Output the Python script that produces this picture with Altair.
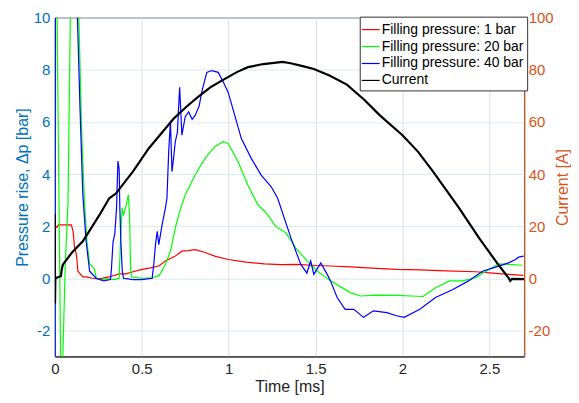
import altair as alt
import pandas as pd

FONT = "Liberation Sans"
BLUE_AX = "#0072BD"
ORANGE_AX = "#D95319"
DARK = "#262626"

# ---- data ----
t_red = [0.005, 0.012, 0.02, 0.06, 0.095, 0.105, 0.114, 0.124, 0.133, 0.142, 0.161, 0.18, 0.217, 0.256, 0.313,
         0.37, 0.409, 0.45, 0.503, 0.55, 0.598, 0.636, 0.693, 0.73, 0.77, 0.807, 0.86, 0.92, 0.997, 1.1, 1.206,
         1.3, 1.396, 1.5, 1.586, 1.7, 1.8, 1.966, 2.1, 2.25, 2.42, 2.52, 2.61, 2.695]
p_red = [2.0, 1.95, 2.05, 2.05, 2.05, 1.8, 1.16, 0.91, 0.27, 0.2, 0.05, 0.05, 0.0, -0.02, 0.05,
         0.17, 0.17, 0.25, 0.34, 0.4, 0.47, 0.66, 0.85, 1.04, 1.06, 1.1, 1.0, 0.85, 0.72, 0.62, 0.55,
         0.52, 0.53, 0.49, 0.47, 0.44, 0.4, 0.34, 0.32, 0.28, 0.25, 0.2, 0.15, 0.11]

t_green = [0.006, 0.013, 0.034, 0.044, 0.06, 0.076, 0.089, 0.1, 0.13, 0.138, 0.155, 0.17, 0.185, 0.2, 0.215,
           0.228, 0.238, 0.26, 0.3, 0.34, 0.37, 0.378, 0.387, 0.395, 0.41, 0.423, 0.43, 0.436, 0.443, 0.5,
           0.56, 0.6, 0.636, 0.665, 0.693, 0.72, 0.75, 0.78, 0.807, 0.864, 0.92, 0.969, 0.997, 1.054, 1.11,
           1.168, 1.225, 1.27, 1.33, 1.386, 1.453, 1.51, 1.586, 1.65, 1.7, 1.757, 1.85, 1.966, 2.05, 2.118,
           2.19, 2.27, 2.346, 2.42, 2.497, 2.555, 2.61, 2.69]
p_green = [12.0, 10.0, -3.5, -3.5, 0.5, 2.95, 10.0, 14.0, 14.0, 10.0, 5.5, 3.0, 1.4, 0.55, 0.45,
           0.34, 0.02, -0.05, -0.02, -0.05, 0.0, 1.5, 2.7, 2.4, 2.8, 3.2, 2.4, 0.4, 0.05, 0.0,
           0.02, 0.1, 0.53, 1.04, 1.93, 2.6, 3.2, 3.6, 3.96, 4.6, 5.05, 5.24, 5.17, 4.47, 3.58,
           2.82, 2.44, 1.99, 1.74, 1.16, 0.66, 0.27, -0.1, -0.35, -0.55, -0.68, -0.65, -0.66, -0.68, -0.7,
           -0.36, -0.1, -0.1, 0.02, 0.34, 0.55, 0.53, 0.5]

t_blue = [0.0, 0.004, 0.12, 0.13, 0.145, 0.161, 0.18, 0.2, 0.237, 0.28, 0.32, 0.325, 0.335, 0.345, 0.355,
          0.363, 0.37, 0.374, 0.38, 0.388, 0.395, 0.45, 0.5, 0.56, 0.57, 0.579, 0.589, 0.598, 0.617, 0.636,
          0.645, 0.655, 0.665, 0.674, 0.683, 0.693, 0.705, 0.718, 0.731, 0.75, 0.77, 0.79, 0.807, 0.83, 0.845,
          0.874, 0.902, 0.94, 0.969, 0.997, 1.035, 1.073, 1.13, 1.187, 1.244, 1.282, 1.32, 1.358, 1.415, 1.45,
          1.472, 1.49, 1.53, 1.567, 1.586, 1.624, 1.67, 1.72, 1.776, 1.833, 1.91, 1.966, 2.01, 2.1, 2.19,
          2.29, 2.38, 2.46, 2.536, 2.61, 2.65, 2.668, 2.697]
p_blue = [-10.0, 20.0, 20.0, 10.0, 6.5, 3.2, 1.42, 0.27, 0.0, -0.1, -0.05, 0.3, 1.4, 1.7, 2.7,
          4.5, 4.2, 2.7, 1.4, 0.27, 0.0, -0.05, -0.05, 0.0, 0.6, 1.29, 1.8, 1.29, 2.05, 2.69,
          3.07, 4.86, 6.0, 4.09, 4.6, 5.24, 5.6, 7.33, 5.49, 6.2, 6.38, 6.1, 6.25, 6.6, 7.14,
          7.9, 7.97, 7.9, 7.53, 7.14, 6.25, 5.36, 4.6, 3.96, 3.52, 3.07, 2.31, 1.55, 0.53, 0.2,
          0.66, 0.15, 0.59, 0.15, -0.1, -0.74, -1.19, -1.19, -1.5, -1.25, -1.32, -1.44, -1.5, -1.19, -0.74,
          -0.43, -0.1, 0.27, 0.43, 0.59, 0.72, 0.81, 0.85]

t_cur = [0.0, 0.001, 0.003, 0.02, 0.035, 0.04, 0.046, 0.1, 0.161, 0.256, 0.313, 0.351, 0.45, 0.54, 0.684,
         0.76, 0.826, 0.9, 0.978, 1.05, 1.111, 1.2, 1.31, 1.356, 1.42, 1.49, 1.58, 1.68, 1.78, 1.87,
         2.0, 2.09, 2.175, 2.25, 2.326, 2.44, 2.55, 2.61, 2.62, 2.63, 2.7]
i_cur = [24.7, -9.7, 0.0, 0.5, 0.8, 3.5, 5.2, 10.0, 14.2, 24.2, 30.7, 32.5, 41.0, 49.8, 61.3,
         66.0, 69.7, 73.5, 76.5, 79.2, 81.0, 82.2, 83.0, 82.5, 81.5, 80.3, 77.8, 74.3, 68.5, 62.5,
         54.9, 48.5, 41.0, 34.0, 26.9, 15.5, 5.3, 0.2, -1.0, -0.2, -0.3]

series = ["Filling pressure: 1 bar", "Filling pressure: 20 bar", "Filling pressure: 40 bar", "Current"]
colors = ["#FF0000", "#00FF00", "#0000FF", "#000000"]

x_ticks = [0, 0.5, 1, 1.5, 2, 2.5]
left_ticks = [-2, 0, 2, 4, 6, 8, 10]
right_ticks = [-20, 0, 20, 40, 60, 80, 100]

def frame(t, v, name):
    return pd.DataFrame({"t": t, "v": v, "series": name, "o": range(len(t))})

df_red = frame(t_red, p_red, series[0])
df_green = frame(t_green, p_green, series[1])
df_blue = frame(t_blue, p_blue, series[2])
df_cur = frame(t_cur, i_cur, series[3])

LBL = "'' + datum.value"

xscale = alt.Scale(domain=[0, 2.7], nice=False, zero=False)
xaxis = alt.Axis(title="Time [ms]", values=x_ticks, labelFlush=False, labelExpr=LBL,
                 ticks=False, labelPadding=5, titlePadding=2, gridColor="#dedede",
                 domainColor=DARK, labelColor=DARK, titleColor=DARK, labelFontSize=15,
                 titleFontSize=16, titleFontWeight="normal", labelFont=FONT, titleFont=FONT)

color = alt.Color("series:N", scale=alt.Scale(domain=series, range=colors),
                  legend=alt.Legend(title=None, orient="none", legendX=306, legendY=-1,
                                    symbolType="stroke", symbolSize=324, symbolStrokeWidth=1.2,
                                    labelFont=FONT, labelFontSize=14, labelColor="#000000",
                                    fillColor="white", strokeColor="#333333", padding=3,
                                    rowPadding=0, labelOffset=1, symbolOffset=-2,
                                    cornerRadius=0))

ly = alt.Scale(domain=[-3, 10], nice=False, zero=False)
ly_axis = alt.Axis(title="Pressure rise, \u0394p [bar]", values=left_ticks, labelExpr=LBL,
                   orient="left", ticks=False, labelPadding=5, titlePadding=3,
                   domainColor=BLUE_AX, labelColor=BLUE_AX, titleColor=BLUE_AX,
                   gridColor="#d9eaf5", labelFontSize=15, titleFontSize=16,
                   titleFontWeight="normal", labelFont=FONT, titleFont=FONT)

def pline(df):
    return alt.Chart(df).mark_line(strokeWidth=1.2, clip=True).encode(
        x=alt.X("t:Q", scale=xscale, axis=xaxis),
        y=alt.Y("v:Q", scale=ly, axis=ly_axis),
        order="o:Q",
        color=color,
    )

left = alt.layer(pline(df_red), pline(df_green), pline(df_blue))

ry = alt.Scale(domain=[-30, 100], nice=False, zero=False)
ry_axis = alt.Axis(title="Current [A]", values=right_ticks, labelExpr=LBL, orient="right",
                   ticks=False, labelPadding=4, titlePadding=1, grid=False, titleAngle=270,
                   titleBaseline="top",
                   domainColor=ORANGE_AX, labelColor=ORANGE_AX, titleColor=ORANGE_AX,
                   labelFontSize=15, titleFontSize=16, titleFontWeight="normal",
                   labelFont=FONT, titleFont=FONT)

right = alt.Chart(df_cur).mark_line(strokeWidth=2.2, clip=True).encode(
    x=alt.X("t:Q", scale=xscale, axis=xaxis),
    y=alt.Y("v:Q", scale=ry, axis=ry_axis),
    order="o:Q",
    color=color,
)

chart = alt.layer(left, right).resolve_scale(y="independent").properties(
    width=471, height=340, padding={"left": 6, "top": 2, "right": 0, "bottom": 0}
).configure_view(stroke=DARK, strokeWidth=1).configure_axis(domainWidth=1)

chart.save("out.html", embed_options={"renderer": "svg", "actions": False})
